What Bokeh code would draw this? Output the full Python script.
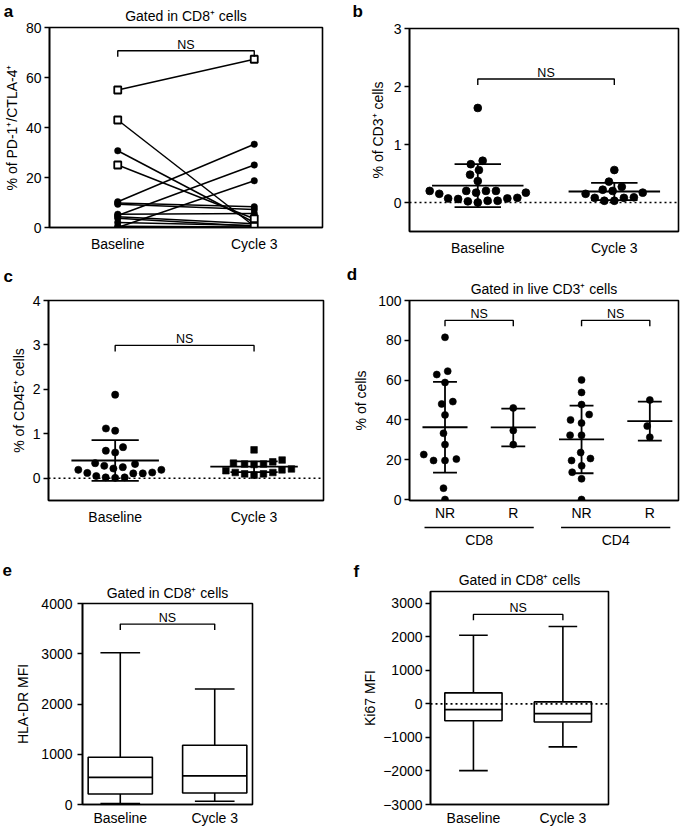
import math
from bokeh.plotting import figure
from bokeh.layouts import column, row
from bokeh.models import Range1d, FixedTicker, Span, Label, ColumnDataSource
from bokeh.embed import file_html
from bokeh.resources import INLINE
from bokeh.core.properties import value

FONT = "Liberation Sans"

# ---------------- data ----------------
timepoints = ["Baseline", "Cycle 3"]

# (a) % PD-1+/CTLA-4+ of CD8+ cells, paired samples
a_baseline = [55.0, 43.0, 25.0, 30.7, 10.3, 9.8, 9.3, 5.3, 4.3, 3.7, 4.8, 0.0, 2.0, 0.5]
a_cycle3 = [67.3, 0.5, 3.5, 2.0, 33.3, 8.3, 7.2, 5.6, 1.5, 0.5, 25.0, 18.7, 0.8, 0.2]
a_cohort = ["open", "open", "open", "filled", "filled", "filled", "filled",
            "filled", "filled", "filled", "filled", "filled", "filled", "filled"]

# (b) % of CD3+ cells
b_baseline = [1.63, 0.72, 0.66, 0.56, 0.48, 0.37, 0.17, 0.20, 0.15, 0.20, 0.20,
              0.20, 0.17, 0.03, 0.07, 0.08, 0.00, 0.07, 0.03, 0.06, 0.02]
b_cycle3 = [0.56, 0.36, 0.17, 0.09, 0.08, 0.15, 0.20, 0.27, 0.22, 0.03, 0.08, 0.03]
b_mean = [0.29, 0.19]
b_sd = [0.37, 0.15]

# (c) % of CD45+ cells
c_baseline = [1.88, 1.12, 1.07, 0.70, 0.62, 0.58, 0.34, 0.32, 0.19, 0.25, 0.19,
              0.28, 0.22, 0.12, 0.11, 0.13, 0.11, 0.02, 0.01, 0.02, 0.05]
c_cycle3 = [0.64, 0.41, 0.37, 0.32, 0.34, 0.31, 0.32, 0.21, 0.19, 0.17, 0.10,
            0.10, 0.13, 0.07, 0.13]
c_mean = [0.40, 0.26]
c_sd = [0.46, 0.12]

# (d) % of cells, gated in live CD3+ cells
d_labels = ["NR", "R", "NR", "R"]
d_subsets = ["CD8", "CD8", "CD4", "CD4"]
d_cd8_nr = [81.5, 62.8, 64.5, 58.8, 48.0, 49.2, 42.5, 33.3, 27.6, 19.6, 20.3, 19.6, 22.6, 5.7, 0.0]
d_cd8_r = [46.0, 34.7, 27.6]
d_cd4_nr = [60.1, 53.8, 47.7, 42.7, 40.0, 38.4, 32.3, 32.3, 23.6, 20.6, 19.6, 16.9, 13.7, 10.4, 0.0]
d_cd4_r = [50.0, 36.9, 31.3]
d_mean = [36.3, 36.2, 30.2, 39.4]
d_sd = [22.8, 9.5, 17.0, 9.8]

# (e) HLA-DR MFI box plots
e_min = [20, 65]
e_q1 = [210, 230]
e_median = [540, 570]
e_q3 = [940, 1180]
e_max = [3020, 2300]

# (f) Ki67 MFI box plots
f_min = [-1990, -1280]
f_q1 = [-500, -540]
f_median = [-170, -290]
f_q3 = [330, 60]
f_max = [2050, 2310]

# ---------------- layout geometry (page pixels) ----------------
G = {
    "a": dict(ox=0, oy=0, w=340, h=262, fl=48, ft=27, fr=322, fb=227, xr=(-0.5, 1.5), yr=(0, 80), xs=8, ys=3, ls=3),
    "b": dict(ox=340, oy=0, w=344, h=262, fl=409, ft=28, fr=678, fb=231, xr=(-0.5, 1.47), yr=(-0.5, 3), xs=8, ys=3, ls=5),
    "c": dict(ox=0, oy=262, w=340, h=294, fl=48, ft=300, fr=323, fb=500, xr=(-0.48, 1.5), yr=(-0.5, 4), xs=8, ys=3, ls=3),
    "d": dict(ox=340, oy=262, w=344, h=261, fl=408, ft=300, fr=678, fb=501, xr=(-0.52, 3.42), yr=(-0.5, 100), xs=4, ys=3, ls=6),
    "dfoot": dict(ox=340, oy=523, w=344, h=33, fl=408, ft=523, fr=678, fb=556, xr=(-0.52, 3.42), yr=(0, 33)),
    "e": dict(ox=0, oy=556, w=340, h=272, fl=82, ft=603, fr=252, fb=806, xr=(-0.4, 1.4), yr=(0, 4000), xs=5, ys=5, ls=7),
    "f": dict(ox=340, oy=556, w=344, h=272, fl=430, ft=591, fr=608, fb=806, xr=(-0.48, 1.51), yr=(-3000, 3353), xs=5, ys=3, ls=2),
}


def ppx(g):
    return (g["fr"] - g["fl"]) / (g["xr"][1] - g["xr"][0])


def ppy(g):
    return (g["fb"] - g["ft"]) / (g["yr"][1] - g["yr"][0])


def to_x(g, px):
    return g["xr"][0] + (px - g["fl"]) / ppx(g)


def to_y(g, py):
    return g["yr"][1] - (py - g["ft"]) / ppy(g)


LW = 1.6


def make_fig(key, x_range=None):
    g = G[key]
    return figure(width=g["w"], height=g["h"],
                  x_range=x_range if x_range is not None else Range1d(*g["xr"]),
                  y_range=Range1d(*g["yr"]),
                  min_border_left=g["fl"] - g["ox"], min_border_right=g["ox"] + g["w"] - g["fr"],
                  min_border_top=g["ft"] - g["oy"], min_border_bottom=g["oy"] + g["h"] - g["fb"],
                  output_backend="svg", toolbar_location=None, title=None)


def base_fig(key, xlabels, yticks, ylabel, overrides=None):
    g = G[key]
    p = make_fig(key)
    p.grid.visible = False
    p.background_fill_color = "white"
    p.border_fill_color = "white"
    p.outline_line_color = "black"
    p.outline_line_width = LW
    p.outline_line_alpha = 1.0
    xa = p.xaxis[0]
    xa.ticker = FixedTicker(ticks=list(range(len(xlabels))))
    xa.major_label_overrides = {i: lab for i, lab in enumerate(xlabels)}
    xa.major_tick_in = 0
    xa.major_tick_out = 0
    xa.minor_tick_in = 0
    xa.minor_tick_out = 0
    xa.axis_line_width = LW
    xa.axis_line_color = "black"
    xa.major_label_text_font = FONT
    xa.major_label_text_font_size = "14px"
    xa.major_label_text_color = "black"
    xa.major_label_standoff = g["xs"]
    ya = p.yaxis[0]
    ya.ticker = FixedTicker(ticks=yticks)
    if overrides:
        ya.major_label_overrides = overrides
    ya.major_tick_in = 0
    ya.major_tick_out = 5
    ya.minor_tick_in = 0
    ya.minor_tick_out = 0
    ya.axis_line_width = LW
    ya.major_tick_line_width = LW
    ya.axis_line_color = "black"
    ya.major_tick_line_color = "black"
    ya.major_label_text_font = FONT
    ya.major_label_text_font_size = "14px"
    ya.major_label_text_color = "black"
    ya.major_label_standoff = g["ys"]
    ya.axis_label = ylabel
    ya.axis_label_text_font = FONT
    ya.axis_label_text_font_size = "14px"
    ya.axis_label_text_font_style = "normal"
    ya.axis_label_text_color = "black"
    ya.axis_label_standoff = g["ls"]
    return p


def add_label(p, key, px, py, text, size, side, bold=False, align="left"):
    """Text outside the frame: kept in a side panel that has room for it,
    positioned in data coordinates derived from page pixels."""
    g = G[key]
    p.add_layout(Label(x=to_x(g, px), y=to_y(g, py), text=text, text_font=FONT,
                       text_font_size=size, text_font_style="bold" if bold else "normal",
                       text_align=align, text_baseline="middle", text_color="black"), side)


def add_bracket(p, key, xa, xb, level):
    g = G[key]
    leg = 6 / ppy(g)
    p.line(x=[xa, xa, xb, xb], y=[level - leg, level, level, level - leg],
           line_color="black", line_width=1.4)
    p.text(x=[(xa + xb) / 2], y=[level], text=["NS"], text_font=value(FONT),
           text_font_size="12.5px", text_align="center", text_baseline="alphabetic",
           y_offset=-6, text_color="black")


def swarm(vals, key, diam):
    g = G[key]
    yp, xp = ppy(g), ppx(g)
    order = sorted(range(len(vals)), key=lambda i: vals[i])
    placed = []
    out = [0.0] * len(vals)
    for i in order:
        y = vals[i] * yp
        cands = [0.0]
        for (px, py) in placed:
            dy = abs(y - py)
            if dy < diam:
                dx = math.sqrt(diam * diam - dy * dy)
                cands += [px + dx, px - dx]
        cands.sort(key=lambda c: (round(abs(c), 6), c))
        chosen = cands[0]
        for c in cands:
            if all((c - px) ** 2 + (y - py) ** 2 >= diam * diam - 1e-6 for px, py in placed):
                chosen = c
                break
        placed.append((chosen, y))
        out[i] = chosen / xp
    return out


def add_mean_sd(p, centers, means, sds, mean_w, cap_w):
    src = ColumnDataSource(dict(
        x=centers,
        m0=[c - mean_w / 2 for c in centers], m1=[c + mean_w / 2 for c in centers],
        c0=[c - cap_w / 2 for c in centers], c1=[c + cap_w / 2 for c in centers],
        mean=means,
        hi=[m + s for m, s in zip(means, sds)], lo=[m - s for m, s in zip(means, sds)]))
    kw = dict(line_color="black", line_width=1.8, source=src)
    p.segment(x0="m0", x1="m1", y0="mean", y1="mean", **kw)
    p.segment(x0="c0", x1="c1", y0="hi", y1="hi", **kw)
    p.segment(x0="c0", x1="c1", y0="lo", y1="lo", **kw)
    p.segment(x0="x", x1="x", y0="lo", y1="hi", **kw)


def zero_line(p):
    p.add_layout(Span(location=0, dimension="width", line_color="black",
                      line_width=1.6, line_dash="2 3"))


def box_plot(p, lo, q1, med, q3, hi, box_w, cap_w):
    xs = list(range(len(med)))
    src = ColumnDataSource(dict(
        x=xs, lo=lo, q1=q1, med=med, q3=q3, hi=hi,
        b0=[x - box_w / 2 for x in xs], b1=[x + box_w / 2 for x in xs],
        c0=[x - cap_w / 2 for x in xs], c1=[x + cap_w / 2 for x in xs]))
    kw = dict(line_color="black", line_width=LW, source=src)
    p.segment(x0="x", x1="x", y0="q3", y1="hi", **kw)
    p.segment(x0="x", x1="x", y0="lo", y1="q1", **kw)
    p.segment(x0="c0", x1="c1", y0="hi", y1="hi", **kw)
    p.segment(x0="c0", x1="c1", y0="lo", y1="lo", **kw)
    p.vbar(x="x", width=box_w, bottom="q1", top="q3", fill_color="white", **kw)
    p.segment(x0="b0", x1="b1", y0="med", y1="med", **kw)


def frame_cx(key):
    return (G[key]["fl"] + G[key]["fr"]) / 2


# ---------------- panel a ----------------
pa = base_fig("a", timepoints, [0, 20, 40, 60, 80], "% of PD-1\u207a/CTLA-4\u207a")
n_a = len(a_baseline)
src_a = ColumnDataSource(dict(x0=[0] * n_a, x1=[1] * n_a, y0=a_baseline, y1=a_cycle3))
pa.segment(x0="x0", y0="y0", x1="x1", y1="y1", source=src_a, line_color="black", line_width=1.5)
for cohort in ("filled", "open"):
    idx = [i for i in range(n_a) if a_cohort[i] == cohort]
    xs = [0] * len(idx) + [1] * len(idx)
    ys = [a_baseline[i] for i in idx] + [a_cycle3[i] for i in idx]
    if cohort == "open":
        pa.scatter(xs, ys, marker="square", size=7, fill_color="white", line_color="black", line_width=1.8)
    else:
        pa.scatter(xs, ys, marker="circle", size=6.5, fill_color="black", line_color="black", line_width=0.5)
add_bracket(pa, "a", 0, 1, 70.7)
add_label(pa, "a", frame_cx("a"), 15, "Gated in CD8\u207a cells", "14px", "above", align="center")
add_label(pa, "a", 2, 10.5, "a", "17px", "right", bold=True)

# ---------------- panel b ----------------
pb = base_fig("b", timepoints, [0, 1, 2, 3], "% of CD3\u207a cells")
zero_line(pb)
for gi, vals in enumerate((b_baseline, b_cycle3)):
    off = swarm(vals, "b", 10.0)
    pb.scatter([gi + o for o in off], vals, marker="circle", size=7.8, fill_color="black",
               line_color="black", line_width=0.8)
add_mean_sd(pb, [0, 1], b_mean, b_sd, 0.67, 0.34)
add_bracket(pb, "b", 0, 1, 2.13)
add_label(pb, "b", 352, 10.5, "b", "17px", "above", bold=True)

# ---------------- panel c ----------------
pc = base_fig("c", timepoints, [0, 1, 2, 3, 4], "% of CD45\u207a cells")
zero_line(pc)
off_c0 = swarm(c_baseline, "c", 9.5)
pc.scatter([0 + o for o in off_c0], c_baseline, marker="circle", size=7.2, fill_color="black",
           line_color="black", line_width=0.6)
off_c1 = swarm(c_cycle3, "c", 9.5)
pc.scatter([1 + o for o in off_c1], c_cycle3, marker="square", size=6.6, fill_color="black",
           line_color="black", line_width=0.6)
add_mean_sd(pc, [0, 1], c_mean, c_sd, 0.63, 0.34)
add_bracket(pc, "c", 0, 1, 2.99)
add_label(pc, "c", 3, 276, "c", "17px", "above", bold=True)

# ---------------- panel d ----------------
pd_ = base_fig("d", d_labels, [0, 20, 40, 60, 80, 100], "% of cells")
for gi, vals in enumerate((d_cd8_nr, d_cd8_r, d_cd4_nr, d_cd4_r)):
    off = swarm(vals, "d", 11.5)
    pd_.scatter([gi + o for o in off], vals, marker="circle", size=7.0, fill_color="black",
                line_color="black", line_width=0.6)
add_mean_sd(pd_, [0, 1, 2, 3], d_mean, d_sd, 0.66, 0.35)
add_bracket(pd_, "d", 0, 1, 90)
add_bracket(pd_, "d", 2, 3, 90)
add_label(pd_, "d", frame_cx("d"), 288, "Gated in live CD3\u207a cells", "14px", "above", align="center")
add_label(pd_, "d", 345, 273.5, "d", "17px", "left", bold=True)

# group bracket under the NR / R labels (CD8, CD4)
gf = G["dfoot"]
pdf = make_fig("dfoot", x_range=pd_.x_range)
pdf.axis.visible = False
pdf.grid.visible = False
pdf.outline_line_color = None
pdf.background_fill_color = None
pdf.border_fill_color = None
subset_names = []
for s in d_subsets:
    if s not in subset_names:
        subset_names.append(s)
centers = []
for name in subset_names:
    idx = [i for i, s in enumerate(d_subsets) if s == name]
    centers.append(sum(idx) / len(idx))
yl = to_y(gf, 527)
pdf.segment(x0=[c - 0.8 for c in centers], x1=[c + 0.8 for c in centers],
            y0=[yl] * len(centers), y1=[yl] * len(centers), line_color="black", line_width=1.5)
pdf.text(x=centers, y=[to_y(gf, 539)] * len(centers), text=subset_names, text_font=value(FONT),
         text_font_size="14px", text_align="center", text_baseline="middle", text_color="black")

# ---------------- panel e ----------------
pe = base_fig("e", timepoints, [0, 1000, 2000, 3000, 4000], "HLA-DR MFI")
box_plot(pe, e_min, e_q1, e_median, e_q3, e_max, 0.68, 0.42)
add_bracket(pe, "e", 0, 1, 3590)
add_label(pe, "e", frame_cx("e"), 592, "Gated in CD8\u207a cells", "14px", "above", align="center")
add_label(pe, "e", 2, 569.5, "e", "17px", "above", bold=True)

# ---------------- panel f ----------------
f_ticks = [-3000, -2000, -1000, 0, 1000, 2000, 3000]
f_over = {t: ("\u2212" + str(-t) if t < 0 else str(t)) for t in f_ticks}
pf = base_fig("f", timepoints, f_ticks, "Ki67 MFI", overrides=f_over)
box_plot(pf, f_min, f_q1, f_median, f_q3, f_max, 0.64, 0.32)
zero_line(pf)
add_bracket(pf, "f", 0, 1, 2670)
add_label(pf, "f", frame_cx("f"), 579, "Gated in CD8\u207a cells", "14px", "above", align="center")
add_label(pf, "f", 353, 570.5, "f", "17px", "left", bold=True)

layout = column(row(column(pa), column(pb)),
                row(column(pc), column(pd_, pdf)),
                row(column(pe), column(pf)))
open("out.html", "w").write(file_html(layout, INLINE))
